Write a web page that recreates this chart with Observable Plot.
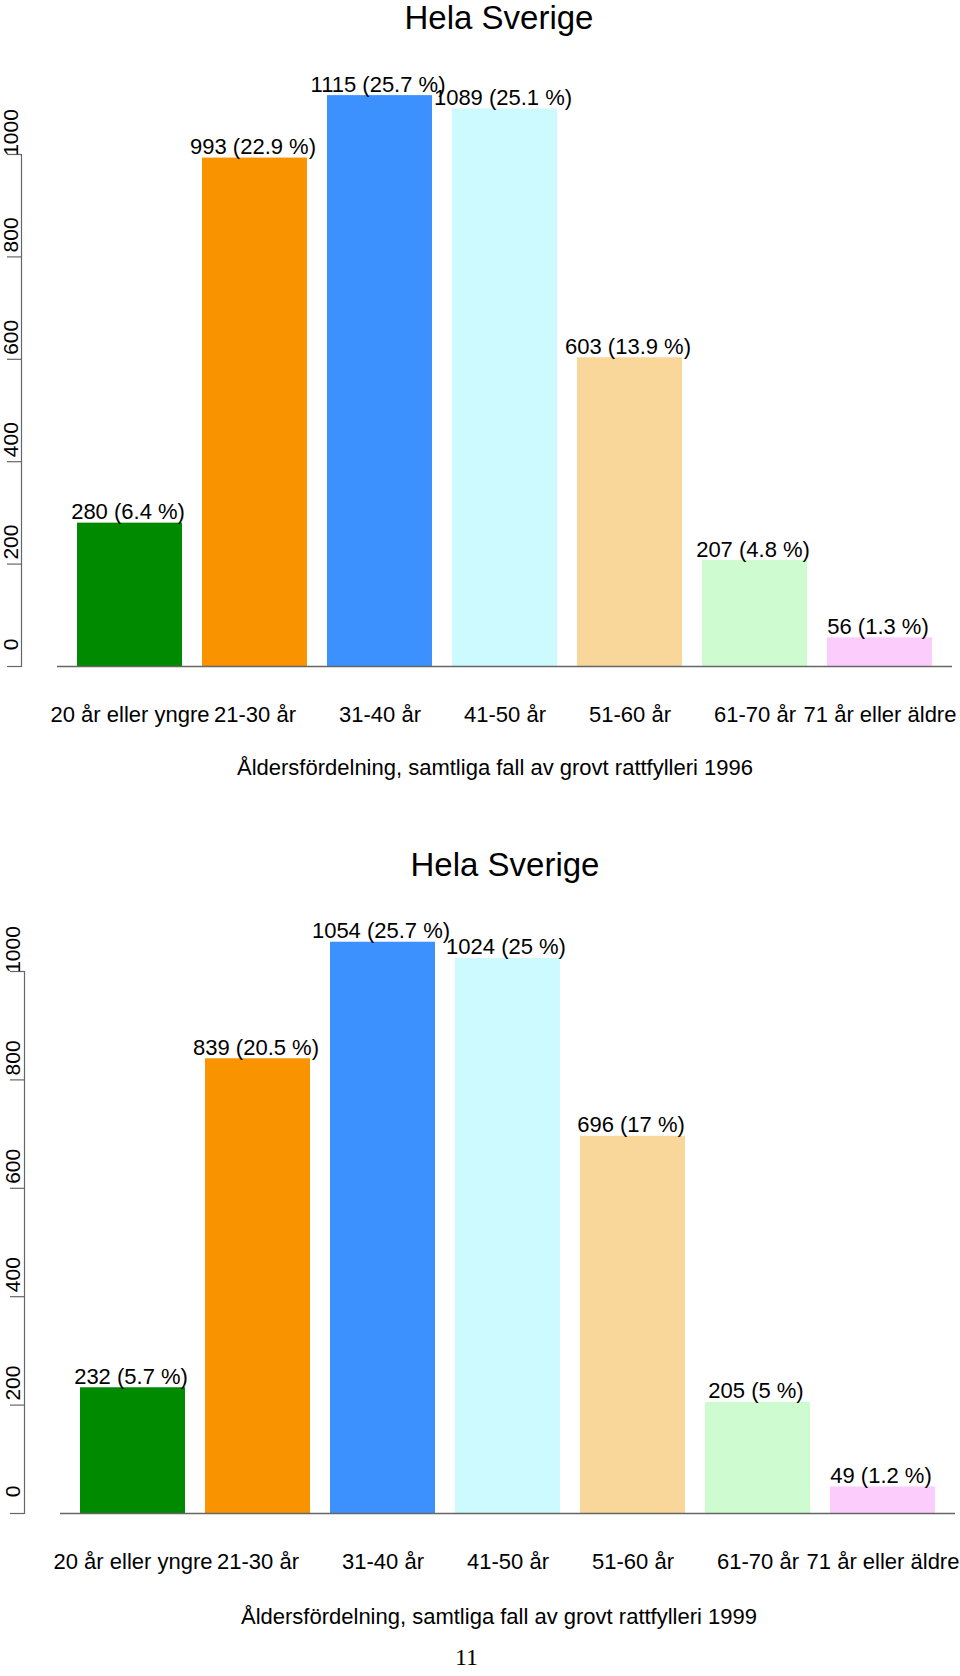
<!DOCTYPE html>
<html>
<head>
<meta charset="utf-8">
<script src="https://cdn.jsdelivr.net/npm/d3@7"></script>
<script src="https://cdn.jsdelivr.net/npm/@observablehq/plot@0.6"></script>
<style>
  html, body { margin: 0; padding: 0; background: #fff; }
  #page { position: relative; width: 960px; height: 1676px; overflow: hidden; background: #fff;
          font-family: "Liberation Sans", Arial, Helvetica, sans-serif; color: #000; }
  .abs { position: absolute; white-space: nowrap; transform: translateX(-50%); line-height: 1; }
  .title { font-size: 33px; }
  .xtitle { font-size: 22px; }
  .pageno { font-family: "Liberation Serif", "Times New Roman", serif; font-size: 24px; }
  .chart { position: absolute; left: 0; }
</style>
</head>
<body>
<div id="page"></div>
<script>
// ---- data ----
const ages = ["20 år eller yngre", "21-30 år", "31-40 år", "41-50 år", "51-60 år", "61-70 år", "71 år eller äldre"];
const counts1996 = [280, 993, 1115, 1089, 603, 207, 56];
const pct1996 = [6.4, 22.9, 25.7, 25.1, 13.9, 4.8, 1.3];
const counts1999 = [232, 839, 1054, 1024, 696, 205, 49];
const pct1999 = [5.7, 20.5, 25.7, 25, 17, 5, 1.2];
const barColors = ["#008a00", "#f99400", "#3c91ff", "#ccfaff", "#f9d79b", "#cefcd0", "#fccdfc"];
const yTicks = [0, 200, 400, 600, 800, 1000];
const chartTitle = "Hela Sverige";
const xTitle1996 = "Åldersfördelning, samtliga fall av grovt rattfylleri 1996";
const xTitle1999 = "Åldersfördelning, samtliga fall av grovt rattfylleri 1999";
const pageNumber = "11";

const page = document.getElementById("page");

function makeChart(counts, pcts, opt) {
  const rows = ages.map((a, i) => ({age: a, count: counts[i], pct: pcts[i]}));
  return Plot.plot({
    width: 960,
    height: opt.height,
    marginTop: opt.marginTop,
    marginBottom: opt.marginBottom,
    marginLeft: opt.marginLeft,
    marginRight: opt.marginRight,
    style: {fontFamily: '"Liberation Sans", Arial, sans-serif', fontSize: "22px", color: "#000", background: "transparent", overflow: "visible"},
    x: {domain: ages, range: opt.xRange, paddingInner: 0.16, paddingOuter: 0.16, label: null},
    y: {domain: [0, 1000], label: null},
    color: {domain: ages, range: barColors},
    marks: [
      Plot.barY(rows, {x: "age", y: "count", fill: "age"}),
      Plot.ruleY([0], {stroke: "#666", strokeWidth: 1.5, insetLeft: opt.xRange[0] - opt.marginLeft}),
      Plot.frame({anchor: "left", stroke: "#666", strokeWidth: 1.2}),
      Plot.axisY({ticks: yTicks, tickSize: 14, tickFormat: () => "", stroke: "#666", strokeWidth: 1.2}),
      Plot.text(yTicks, {y: d => d, text: d => String(d), frameAnchor: "left", rotate: -90,
        textAnchor: "middle", lineAnchor: "middle", dx: opt.yLabelDx, dy: -22, fontSize: 21, fill: "#000"}),
      Plot.axisX({tickSize: 0, tickPadding: opt.xPad, fontSize: 22, fill: "#000"}),
      Plot.text(rows, {x: "age", y: "count", text: d => `${d.count} (${d.pct} %)`,
        lineAnchor: "bottom", dy: -4, dx: -2, fontSize: 22, fill: "#000"})
    ]
  });
}

function addDiv(cls, text, cx, top) {
  const d = document.createElement("div");
  d.className = "abs " + cls;
  d.textContent = text;
  d.style.left = cx + "px";
  d.style.top = top + "px";
  page.appendChild(d);
}

const c1 = makeChart(counts1996, pct1996, {height: 800, marginTop: 154, marginBottom: 134,
  marginLeft: 21, marginRight: 8, xRange: [57, 952], yLabelDx: -10, xPad: 40});
c1.classList.add("chart"); c1.style.top = "0px";
page.appendChild(c1);

const c2 = makeChart(counts1999, pct1999, {height: 876, marginTop: 171, marginBottom: 163,
  marginLeft: 24, marginRight: 5, xRange: [60, 955], yLabelDx: -11, xPad: 39.5});
c2.classList.add("chart"); c2.style.top = "800px";
page.appendChild(c2);

addDiv("title", chartTitle, 499, 1);
addDiv("xtitle", xTitle1996, 495, 757);
addDiv("title", chartTitle, 505, 848);
addDiv("xtitle", xTitle1999, 499, 1606);
addDiv("pageno", pageNumber, 466.5, 1645);
</script>
</body>
</html>
